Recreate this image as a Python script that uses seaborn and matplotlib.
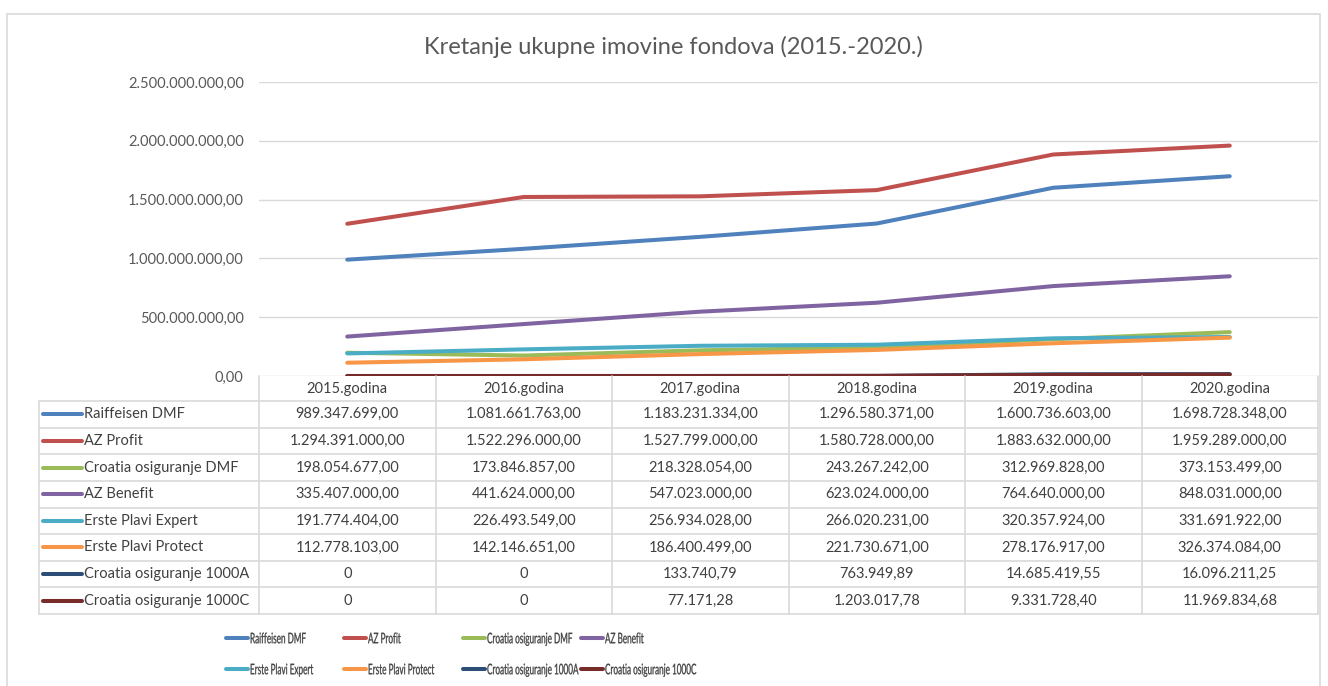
import numpy as np
import pandas as pd
import seaborn as sns
import matplotlib.pyplot as plt
from matplotlib.lines import Line2D
from matplotlib.patches import Rectangle, PathPatch
from matplotlib.textpath import TextPath
from matplotlib.font_manager import FontProperties
from matplotlib.transforms import Affine2D, IdentityTransform
from matplotlib.ticker import FuncFormatter

years = ['2015.godina', '2016.godina', '2017.godina', '2018.godina', '2019.godina', '2020.godina']
funds = ['Raiffeisen DMF', 'AZ Profit', 'Croatia osiguranje DMF', 'AZ Benefit',
         'Erste Plavi Expert', 'Erste Plavi Protect', 'Croatia osiguranje 1000A', 'Croatia osiguranje 1000C']
raiffeisen_dmf = [989347699.00, 1081661763.00, 1183231334.00, 1296580371.00, 1600736603.00, 1698728348.00]
az_profit = [1294391000.00, 1522296000.00, 1527799000.00, 1580728000.00, 1883632000.00, 1959289000.00]
croatia_dmf = [198054677.00, 173846857.00, 218328054.00, 243267242.00, 312969828.00, 373153499.00]
az_benefit = [335407000.00, 441624000.00, 547023000.00, 623024000.00, 764640000.00, 848031000.00]
erste_expert = [191774404.00, 226493549.00, 256934028.00, 266020231.00, 320357924.00, 331691922.00]
erste_protect = [112778103.00, 142146651.00, 186400499.00, 221730671.00, 278176917.00, 326374084.00]
croatia_1000a = [0, 0, 133740.79, 763949.89, 14685419.55, 16096211.25]
croatia_1000c = [0, 0, 77171.28, 1203017.78, 9331728.40, 11969834.68]
series = [raiffeisen_dmf, az_profit, croatia_dmf, az_benefit,
          erste_expert, erste_protect, croatia_1000a, croatia_1000c]
colors = ['#4F81BD', '#C0504D', '#9BBB59', '#8064A2', '#4BACC6', '#F79646', '#2C4D75', '#772C2A']

W, H = 1328, 686
FONT = ['Lato', 'DejaVu Sans']
GRID = '#d9d9d9'
TXT = '#404040'


def fx(x):
    return x / W


def fy(y):
    return 1 - y / H


def fmt_hr(v, dec=2):
    s = f'{v:,.{dec}f}'
    return s.replace(',', 'X').replace('.', ',').replace('X', '.')


def fmt_cell(v):
    return '0' if v == 0 else fmt_hr(v)


sns.set_style('white')
plt.rcParams['font.family'] = FONT

df = pd.DataFrame({'godina': np.tile(np.arange(len(years)), len(funds)),
                   'fond': np.repeat(funds, len(years)),
                   'imovina': np.concatenate(series)})

fig = plt.figure(figsize=(W / 100, H / 100), dpi=100)
fig.patch.set_facecolor('white')

# outer chart border
fig.add_artist(Rectangle((fx(7), fy(700)), fx(1320) - fx(7), fy(14) - fy(700),
                         transform=fig.transFigure, fill=False, edgecolor=GRID, lw=1.2))

left, right, top, bottom = 259, 1318, 82, 376
ax = fig.add_axes([fx(left), fy(bottom), fx(right) - fx(left), fy(top) - fy(bottom)])
sns.lineplot(data=df, x='godina', y='imovina', hue='fond', hue_order=funds,
             palette=colors, linewidth=2.9, legend=False, ax=ax)
ax.set_xlim(-0.5, len(years) - 0.5)
ax.set_ylim(0, 2.5e9)
ax.set_yticks(np.arange(0, 2.5e9 + 1, 5e8))
ax.yaxis.set_major_formatter(FuncFormatter(lambda v, p: fmt_hr(v)))
ax.set_xticks([])
ax.set_xlabel('')
ax.set_ylabel('')
ax.grid(axis='y', color=GRID, lw=1)
for s in ax.spines.values():
    s.set_visible(False)
ax.tick_params(axis='y', length=0, pad=11, labelsize=10.5, labelcolor='#595959')
ax.set_facecolor('none')

fig.text(fx(673), fy(47), 'Kretanje ukupne imovine fondova (2015.-2020.)',
         ha='center', va='center', fontsize=17, color='#595959')

# data table under the axis
colw = (right - left) / len(years)
hdr_bot = 401
rowh = (614 - hdr_bot) / len(funds)
tab_bot = hdr_bot + rowh * len(funds)


def hline(x0, x1, y):
    fig.add_artist(Line2D([fx(x0), fx(x1)], [fy(y), fy(y)], transform=fig.transFigure,
                          color=GRID, lw=1.2))


def vline(x, y0, y1):
    fig.add_artist(Line2D([fx(x), fx(x)], [fy(y0), fy(y1)], transform=fig.transFigure,
                          color=GRID, lw=1.2))


for i in range(len(funds) + 1):
    hline(39, right, hdr_bot + i * rowh)
vline(39, hdr_bot, tab_bot)
for k in range(len(years) + 1):
    vline(left + k * colw, bottom, tab_bot)

for j, yr in enumerate(years):
    fig.text(fx(left + (j + 0.5) * colw), fy((bottom + hdr_bot) / 2), yr,
             ha='center', va='center', fontsize=10.5, color=TXT)

for i, (name, vals, c) in enumerate(zip(funds, series, colors)):
    yc = hdr_bot + (i + 0.5) * rowh
    fig.add_artist(Line2D([fx(43), fx(82)], [fy(yc), fy(yc)], transform=fig.transFigure,
                          color=c, lw=2.9, solid_capstyle='round'))
    fig.text(fx(84), fy(yc), name, ha='left', va='center', fontsize=10.5, color=TXT)
    for j, v in enumerate(vals):
        fig.text(fx(left + (j + 0.5) * colw), fy(yc), fmt_cell(v),
                 ha='center', va='center', fontsize=10.5, color=TXT)

# legend (two rows of four) - the legend text is squeezed horizontally in the original
leg_x = [226, 344, 463, 581]
leg_y = [638, 669]
leg_size = 10.5 * 100 / 72
leg_prop = FontProperties(family='Lato')
for i, (name, c) in enumerate(zip(funds, colors)):
    x0 = leg_x[i % 4]
    y0 = leg_y[i // 4]
    fig.add_artist(Line2D([fx(x0), fx(x0 + 22)], [fy(y0), fy(y0)], transform=fig.transFigure,
                          color=c, lw=2.9, solid_capstyle='round'))
    tp = TextPath((0, 0), name, size=leg_size, prop=leg_prop)
    tr = Affine2D().scale(0.56, 1.0).translate(x0 + 24, H - y0 - 0.36 * leg_size)
    fig.add_artist(PathPatch(tr.transform_path(tp), transform=IdentityTransform(),
                             facecolor=TXT, edgecolor=TXT, lw=0.2))

fig.savefig('out.png', dpi=100)
